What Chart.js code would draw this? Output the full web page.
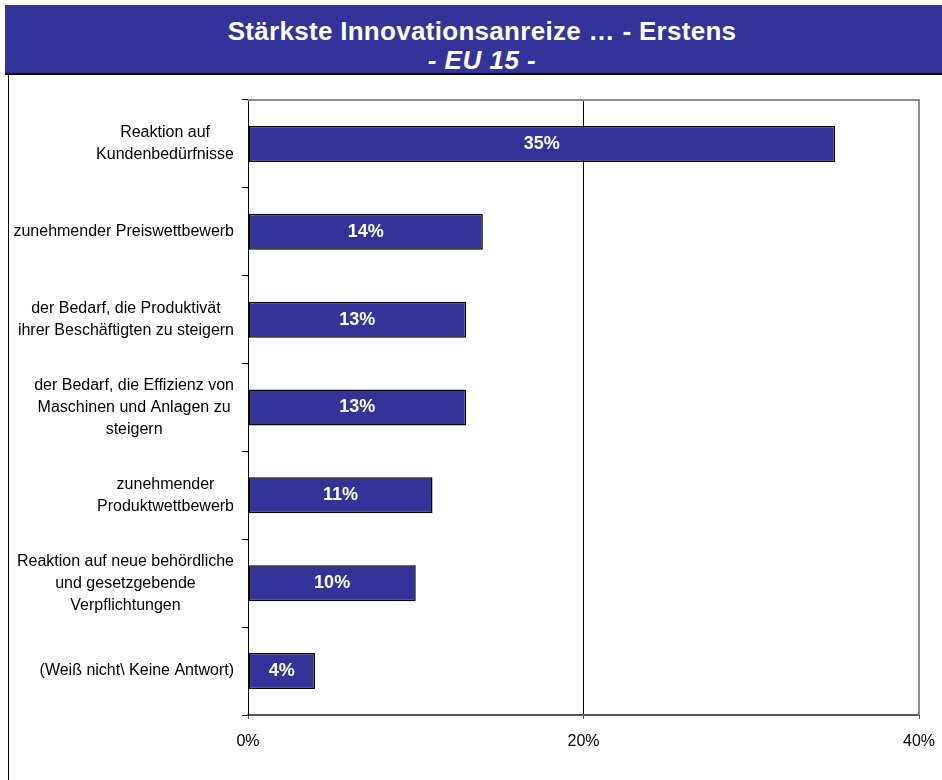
<!DOCTYPE html>
<html>
<head>
<meta charset="utf-8">
<script src="https://cdn.jsdelivr.net/npm/chart.js@4"></script>
<style>
    body { margin: 0; background: #fff; font-family: "Liberation Sans", Arial, sans-serif; }
    #kopf {
        position: absolute; left: 5px; top: 5px; width: 920px; height: 68px;
        padding-left: 17px;
        background: #333399; color: #fff; border-bottom: 2px solid #000;
        text-align: center; font-weight: bold;
    }
    #kopf .t1 { font-size: 26px; line-height: 28px; padding-top: 12px; letter-spacing: 0.3px; }
    #kopf .t2 { font-size: 26px; line-height: 30px; font-style: italic; letter-spacing: 0.5px; }
    #rahmen {
        position: absolute; left: 8px; top: 75px; width: 933px; height: 705px;
        border-left: 1px solid #000;
    }
</style>
</head>
<body>
<div id="kopf">
    <div class="t1">Stärkste Innovationsanreize … - Erstens</div>
    <div class="t2">- EU 15 -</div>
</div>
<div id="rahmen"><canvas id="anreize"></canvas></div>
<script>
const kategorien = [
    ['Reaktion auf', 'Kundenbedürfnisse'],
    ['zunehmender Preiswettbewerb'],
    ['der Bedarf, die Produktivät', 'ihrer Beschäftigten zu steigern'],
    ['der Bedarf, die Effizienz von', 'Maschinen und Anlagen zu', 'steigern'],
    ['zunehmender', 'Produktwettbewerb'],
    ['Reaktion auf neue behördliche', 'und gesetzgebende', 'Verpflichtungen'],
    ['(Weiß nicht\\ Keine Antwort)']
];
const werte = [35, 14, 13, 13, 11, 10, 4];
const achsenTicks = [0, 20, 40];

const schrift = '"Liberation Sans", Arial, sans-serif';

// Beschriftungen links: Block rechtsbündig, Zeilen zentriert
const kategorieText = {
    id: 'kategorieText',
    afterDraw(chart) {
        const ctx = chart.ctx;
        const y = chart.scales.y;
        const rechts = chart.chartArea.left - 14;
        const zeilenHoehe = 22;
        ctx.save();
        ctx.font = '16px ' + schrift;
        ctx.fillStyle = '#000';
        ctx.textAlign = 'center';
        ctx.textBaseline = 'middle';
        kategorien.forEach((zeilen, i) => {
            const breite = Math.max(...zeilen.map(z => ctx.measureText(z).width));
            const mitteX = rechts - breite / 2;
            const mitteY = y.getPixelForValue(i);
            const start = mitteY - (zeilen.length - 1) * zeilenHoehe / 2;
            zeilen.forEach((z, j) => ctx.fillText(z, mitteX, start + j * zeilenHoehe));
        });
        ctx.restore();
    }
};

// Werte in den Balken und grauer Rahmen oben/rechts
const wertText = {
    id: 'wertText',
    afterDatasetsDraw(chart) {
        const ctx = chart.ctx;
        const a = chart.chartArea;
        ctx.save();
        ctx.strokeStyle = '#8c8c8c';
        ctx.lineWidth = 2;
        ctx.beginPath();
        ctx.moveTo(a.left, a.top);
        ctx.lineTo(a.right, a.top);
        ctx.lineTo(a.right, a.bottom);
        ctx.stroke();

        ctx.font = 'bold 18px ' + schrift;
        ctx.fillStyle = '#fff';
        ctx.textAlign = 'center';
        ctx.textBaseline = 'middle';
        chart.getDatasetMeta(0).data.forEach((bar, i) => {
            ctx.fillText(werte[i] + '%', (bar.x + bar.base) / 2, bar.y);
        });
        ctx.restore();
    }
};

new Chart(document.getElementById('anreize'), {
    type: 'bar',
    data: {
        labels: kategorien.map(k => k.join(' ')),
        datasets: [{
            data: werte,
            backgroundColor: '#333399',
            borderColor: '#000',
            borderWidth: 1.5,
            borderSkipped: false,
            categoryPercentage: 1,
            barPercentage: 0.41
        }]
    },
    options: {
        indexAxis: 'y',
        responsive: true,
        maintainAspectRatio: false,
        animation: false,
        layout: {
            padding: { top: 25, right: 23, left: 0, bottom: 0 }
        },
        plugins: {
            legend: { display: false },
            tooltip: { enabled: false }
        },
        scales: {
            x: {
                min: 0,
                max: 40,
                afterBuildTicks: scale => {
                    scale.ticks = achsenTicks.map(v => ({ value: v }));
                },
                afterFit: scale => {
                    scale.height = 65;
                    scale.paddingLeft = 0;
                    scale.paddingRight = 0;
                },
                ticks: {
                    callback: v => v + '%',
                    color: '#000',
                    font: { family: schrift, size: 16 },
                    padding: 13
                },
                grid: {
                    color: c => (c.tick && c.tick.value === 20 ? '#000' : 'rgba(0,0,0,0)'),
                    tickColor: '#555',
                    tickLength: 4,
                    lineWidth: 1
                },
                border: { color: '#555', width: 2 }
            },
            y: {
                afterFit: scale => { scale.width = 239; },
                ticks: { display: false },
                grid: {
                    offset: true,
                    drawOnChartArea: false,
                    color: '#000',
                    tickLength: 6
                },
                border: { color: '#000', width: 1 }
            }
        }
    },
    plugins: [kategorieText, wertText]
});
</script>
</body>
</html>
